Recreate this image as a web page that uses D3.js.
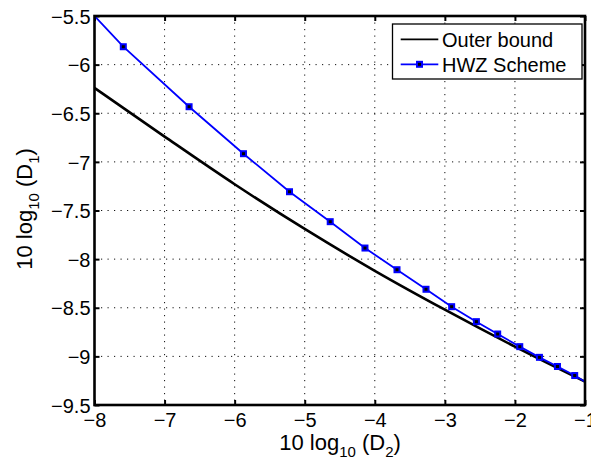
<!DOCTYPE html>
<html><head><meta charset="utf-8">
<script src="https://cdn.jsdelivr.net/npm/d3@7"></script>
<style>
html,body{margin:0;padding:0;background:#fff;}
text{font-family:"Liberation Sans",Arial,Helvetica,sans-serif;}
</style></head>
<body>
<script>
// ---- data ----
const xTicks = [-8, -7, -6, -5, -4, -3, -2, -1];
const yTicks = [-5.5, -6, -6.5, -7, -7.5, -8, -8.5, -9, -9.5];
const outerX = [-8, -7, -6, -5, -4, -3, -2, -1];
const outerY = [-6.24, -6.74, -7.23, -7.69, -8.12, -8.52, -8.90, -9.26];
const hwzLineX = [-8, -7.589, -6.65, -5.874, -5.217, -4.636, -4.14, -3.683, -3.269, -2.903, -2.55, -2.246, -1.931, -1.65, -1.393, -1.147, -1];
const hwzLineY = [-5.5, -5.816, -6.433, -6.916, -7.307, -7.615, -7.886, -8.109, -8.310, -8.489, -8.643, -8.770, -8.900, -9.010, -9.104, -9.197, -9.262];
const hwzMarkX = [-7.589, -6.65, -5.874, -5.217, -4.636, -4.14, -3.683, -3.269, -2.903, -2.55, -2.246, -1.931, -1.65, -1.393, -1.147];
const hwzMarkY = [-5.816, -6.433, -6.916, -7.307, -7.615, -7.886, -8.109, -8.310, -8.489, -8.643, -8.770, -8.900, -9.010, -9.104, -9.197];
const legendLabels = ["Outer bound", "HWZ Scheme"];

const W = 591, H = 464;
const L = 94.5, R = 585, T = 16, B = 405;
const svg = d3.select("body").append("svg").attr("width", W).attr("height", H);

const x = d3.scaleLinear().domain([-8, -1]).range([L, R]);
const y = d3.scaleLinear().domain([-9.5, -5.5]).range([B, T]);

svg.append("defs").append("clipPath").attr("id", "clip")
  .append("rect").attr("x", L).attr("y", T).attr("width", R - L).attr("height", B - T);

// grid
const grid = svg.append("g");
grid.selectAll(".gx").data(xTicks.slice(1, -1)).enter().append("line")
  .attr("x1", d => x(d)).attr("x2", d => x(d)).attr("y1", T).attr("y2", B)
  .attr("stroke", "#111").attr("stroke-width", 1).attr("stroke-dasharray", "1.2,5.3");
grid.selectAll(".gy").data(yTicks.slice(1, -1)).enter().append("line")
  .attr("y1", d => y(d)).attr("y2", d => y(d)).attr("x1", L).attr("x2", R)
  .attr("stroke", "#111").attr("stroke-width", 1).attr("stroke-dasharray", "1.2,5.3");

// axes with ticks inside
const fs = "20px";
const ax = svg.append("g").attr("transform", `translate(0,${B})`)
  .call(d3.axisBottom(x).tickValues(xTicks).tickSize(-5).tickPadding(9).tickFormat(d => String(d).replace("-", "\u2212")));
const axTop = svg.append("g").attr("transform", `translate(0,${T})`)
  .call(d3.axisTop(x).tickValues(xTicks).tickSize(-5).tickFormat(""));
const ay = svg.append("g").attr("transform", `translate(${L},0)`)
  .call(d3.axisLeft(y).tickValues(yTicks).tickSize(-5).tickPadding(4).tickFormat(d => String(d).replace("-", "\u2212")));
const ayR = svg.append("g").attr("transform", `translate(${R},0)`)
  .call(d3.axisRight(y).tickValues(yTicks).tickSize(-5).tickFormat(""));
[ax, axTop, ay, ayR].forEach(g => {
  g.select(".domain").remove();
  g.selectAll(".tick line").attr("stroke", "#000").attr("stroke-width", 2);
  g.selectAll("text").attr("font-size", fs).attr("fill", "#000")
    .style("font-family", '"Liberation Sans",Arial,sans-serif');
});
ax.selectAll("text").attr("dy", "0.71em").attr("y", 8);
ay.selectAll("text").attr("dy", "0.36em");

// data lines
const plot = svg.append("g").attr("clip-path", "url(#clip)");
plot.append("path").datum(d3.zip(outerX, outerY))
  .attr("d", d3.line().x(d => x(d[0])).y(d => y(d[1])).curve(d3.curveMonotoneX))
  .attr("fill", "none").attr("stroke", "#000").attr("stroke-width", 2.6);
plot.append("path").datum(d3.zip(hwzLineX, hwzLineY))
  .attr("d", d3.line().x(d => x(d[0])).y(d => y(d[1])))
  .attr("fill", "none").attr("stroke", "#0000ff").attr("stroke-width", 1.8);
const ms = 5;
plot.selectAll(".m").data(d3.zip(hwzMarkX, hwzMarkY)).enter().append("rect")
  .attr("x", d => x(d[0]) - ms / 2).attr("y", d => y(d[1]) - ms / 2)
  .attr("width", ms).attr("height", ms)
  .attr("fill", "#000").attr("stroke", "#0000ff").attr("stroke-width", 2);

// frame
svg.append("rect").attr("x", L).attr("y", T).attr("width", R - L).attr("height", B - T)
  .attr("fill", "none").attr("stroke", "#000").attr("stroke-width", 2.6);

// axis labels
const lfs = "22px", sfs = "15px";
const xl = svg.append("text").attr("x", 340).attr("y", 450).attr("text-anchor", "middle").attr("font-size", lfs);
xl.append("tspan").text("10 log");
xl.append("tspan").attr("font-size", sfs).attr("dy", 7).text("10");
xl.append("tspan").attr("dy", -7).text(" (D");
xl.append("tspan").attr("font-size", sfs).attr("dy", 7).text("2");
xl.append("tspan").attr("dy", -7).text(")");

const yl = svg.append("text").attr("transform", "translate(32,209) rotate(-90)")
  .attr("text-anchor", "middle").attr("font-size", lfs);
yl.append("tspan").text("10 log");
yl.append("tspan").attr("font-size", sfs).attr("dy", 7).text("10");
yl.append("tspan").attr("dy", -7).text(" (D");
yl.append("tspan").attr("font-size", sfs).attr("dy", 7).text("1");
yl.append("tspan").attr("dy", -7).text(")");

// legend
const lg = svg.append("g");
lg.append("rect").attr("x", 392.5).attr("y", 24).attr("width", 189.5).attr("height", 55)
  .attr("fill", "#fff").attr("stroke", "#000").attr("stroke-width", 1.3);
const rowsY = [39.3, 64.3];
lg.append("line").attr("x1", 400.7).attr("x2", 438.3).attr("y1", rowsY[0]).attr("y2", rowsY[0])
  .attr("stroke", "#000").attr("stroke-width", 1.8);
lg.append("line").attr("x1", 400.7).attr("x2", 438.3).attr("y1", rowsY[1]).attr("y2", rowsY[1])
  .attr("stroke", "#0000ff").attr("stroke-width", 1.8);
lg.append("rect").attr("x", 419.5 - ms / 2).attr("y", rowsY[1] - ms / 2).attr("width", ms).attr("height", ms)
  .attr("fill", "#000").attr("stroke", "#0000ff").attr("stroke-width", 2);
lg.selectAll(".lt").data(legendLabels).enter().append("text")
  .attr("x", 442).attr("y", (d, i) => rowsY[i]).attr("dy", "0.36em")
  .attr("font-size", fs).text(d => d);
</script>
</body></html>
